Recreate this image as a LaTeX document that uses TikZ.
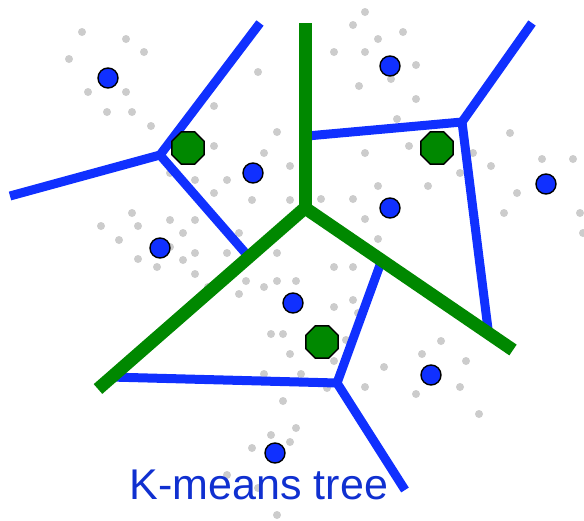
\documentclass[tikz,border=0pt]{standalone}
\usepackage{fontspec}
\setmainfont{Liberation Sans}
\definecolor{bl}{RGB}{16,48,255}
\definecolor{gr}{RGB}{0,136,0}
\definecolor{gd}{RGB}{204,204,204}
\definecolor{tx}{RGB}{16,48,208}
\begin{document}
\begin{tikzpicture}[x=1pt,y=-1pt,
  graydot/.style={fill=gd,draw=none},
  blueedge/.style={draw=bl,line width=9pt,line cap=butt,line join=miter},
  greenedge/.style={draw=gr,line width=13pt,line cap=butt,line join=miter},
  bluept/.style={circle,draw=black,line width=1.4pt,fill=bl,minimum size=20pt,inner sep=0pt},
  greenpt/.style={draw=black,line width=1.4pt,fill=gr}]
\useasboundingbox (0,0) rectangle (584,520);
% gray data points
\foreach \x/\y in {82/32,126/39,144/52,69/59,258/72,88/92,126/92,107/112,132/112,151/126,214/106,277/132,214/146,264/153,290/166,170/173,195/180,227/180,214/193,252/200,290/200,132/213,101/226,138/226,170/220,195/220,183/233,119/240,239/233,170/247,195/253,227/253,277/253,138/259,
365/12,353/25,403/32,378/39,334/52,365/52,416/65,391/79,359/86,416/99,397/119,510/133,409/146,365/153,473/153,491/166,542/159,573/159,460/173,428/186,378/186,517/193,321/199,353/199,504/213,580/213,365/219,378/239,583/233,
157/267,183/260,195/274,208/287,246/281,239/294,264/287,277/281,296/281,271/334,283/334,290/354,264/374,301/374,283/401,296/428,271/435,290/442,252/448,227/475,258/488,277/515,
334/267,353/267,353/300,334/307,358/313,346/340,334/361,384/367,365/387,327/388,441/341,422/354,466/361,460/387,416/394,479/414}
  \fill[graydot] (\x,\y) circle (4pt);
% coordinates of the tree
\coordinate (b1) at (160,155);
\coordinate (b1a) at (260,23);
\coordinate (b1b) at (10,196);
\coordinate (b1c) at (248,256);
\coordinate (b2) at (462,122);
\coordinate (b2a) at (307,136);
\coordinate (b2b) at (532,23);
\coordinate (b2c) at (488,329);
\coordinate (b3) at (337,383);
\coordinate (b3a) at (110,377);
\coordinate (b3b) at (380,265);
\coordinate (b3c) at (405,490);
\coordinate (g0) at (305,208);
\coordinate (g1) at (305,23);
\coordinate (g2) at (98,389);
\coordinate (g3) at (513,350);
% blue edges
\draw[blueedge] (b1a) -- (b1) -- (b1b);
\draw[blueedge] (b1) -- (b1c);
\draw[blueedge] (b2a) -- (b2) -- (b2b);
\draw[blueedge] (b2) -- (b2c);
\draw[blueedge] (b3a) -- (b3) -- (b3b);
\draw[blueedge] (b3) -- (b3c);
% green edges
\draw[greenedge] (g1) -- (g0);
\draw[greenedge] (g0) -- (g2);
\draw[greenedge] (g0) -- (g3);
% blue centres
\foreach \n/\x/\y in {p1/108/78,p2/253/173,p3/160/248,p4/390/66,p5/390/208,p6/546/184,p7/293/303,p8/431/375,p9/275/453}
  \node[bluept] (\n) at (\x,\y) {};
% green centres (octagons)
\foreach \x/\y in {188/148,437/148,322/342}
  \draw[greenpt] (\x,\y) +(22.5:17.5) -- +(67.5:17.5) -- +(112.5:17.5) -- +(157.5:17.5) -- +(202.5:17.5) -- +(247.5:17.5) -- +(292.5:17.5) -- +(337.5:17.5) -- cycle;
% caption
\node[anchor=base,text=tx,font=\fontsize{43}{50}\selectfont,inner sep=0pt] (cap) at (259,499) {K-means tree};
\end{tikzpicture}
\end{document}
